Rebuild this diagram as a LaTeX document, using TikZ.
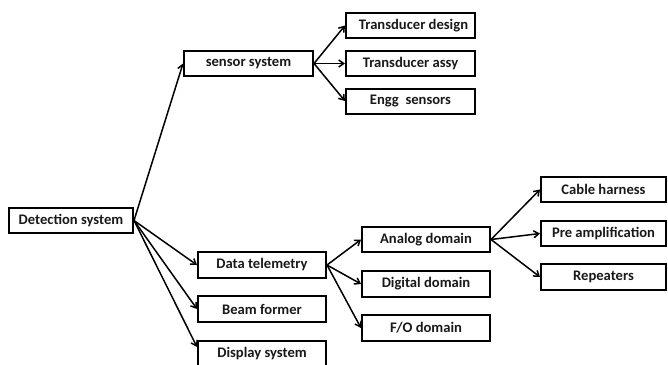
\documentclass[tikz,border=0pt]{standalone}
\usepackage{fontspec}
\setmainfont{Carlito}
\usetikzlibrary{arrows.meta,calc}
\begin{document}
\begin{tikzpicture}[x=1pt,y=-1pt,
  box/.style={draw,line width=2pt,minimum width=128pt,minimum height=25pt,inner sep=0pt,
    font=\fontsize{14.6}{16}\selectfont\bfseries,text=black!90},
  link/.style={line width=1.5pt,-{Straight Barb[length=5pt,width=7pt]}}]
\useasboundingbox (0,0) rectangle (668,364);
\node[box,minimum width=124pt] (det) at (71,220.5) {Detection system};
\node[box,minimum width=129pt] (sen) at (248.5,63.5) {sensor system};
\node[box,minimum width=129pt] (td) at (410.5,25.5) {\hspace*{6pt}Transducer design};
\node[box,minimum width=129pt] (ta) at (410.5,63.5) {Transducer assy};
\node[box,minimum width=129pt] (es) at (410.5,101) {Engg\ \ sensors};
\node[box,minimum height=26pt] (dt) at (262,265) {Data telemetry};
\node[box,minimum height=26pt] (bf) at (262,309) {Beam former};
\node[box,minimum height=26pt] (ds) at (262,354) {Display system};
\node[box] (an) at (426,239.5) {Analog domain};
\node[box,minimum height=26pt] (dd) at (426,284) {Digital domain};
\node[box,minimum height=26pt] (fo) at (426,328) {F/O domain};
\node[box,minimum width=125pt] (ch) at (603.5,189.5) {Cable harness};
\node[box,minimum width=125pt] (pa) at (603.5,233.5) {Pre amplification};
\node[box,minimum width=125pt,minimum height=26pt] (rp) at (603.5,277) {Repeaters};
\coordinate (dsin) at ($(ds.north west)+(0,7)$);
\draw[link] (det.east) -- (sen.west);
\draw[link] (det.east) -- (dt.west);
\draw[link] (det.east) -- (bf.west);
\draw[link] (det.east) -- (dsin);
\draw[link] (sen.east) -- (td.west);
\draw[link] (sen.east) -- (ta.west);
\draw[link] (sen.east) -- (es.west);
\draw[link] (dt.east) -- (an.west);
\draw[link] (dt.east) -- (dd.west);
\draw[link] (dt.east) -- (fo.west);
\draw[link] (an.east) -- (ch.west);
\draw[link] (an.east) -- (pa.west);
\draw[link] (an.east) -- (rp.west);
\end{tikzpicture}
\end{document}
